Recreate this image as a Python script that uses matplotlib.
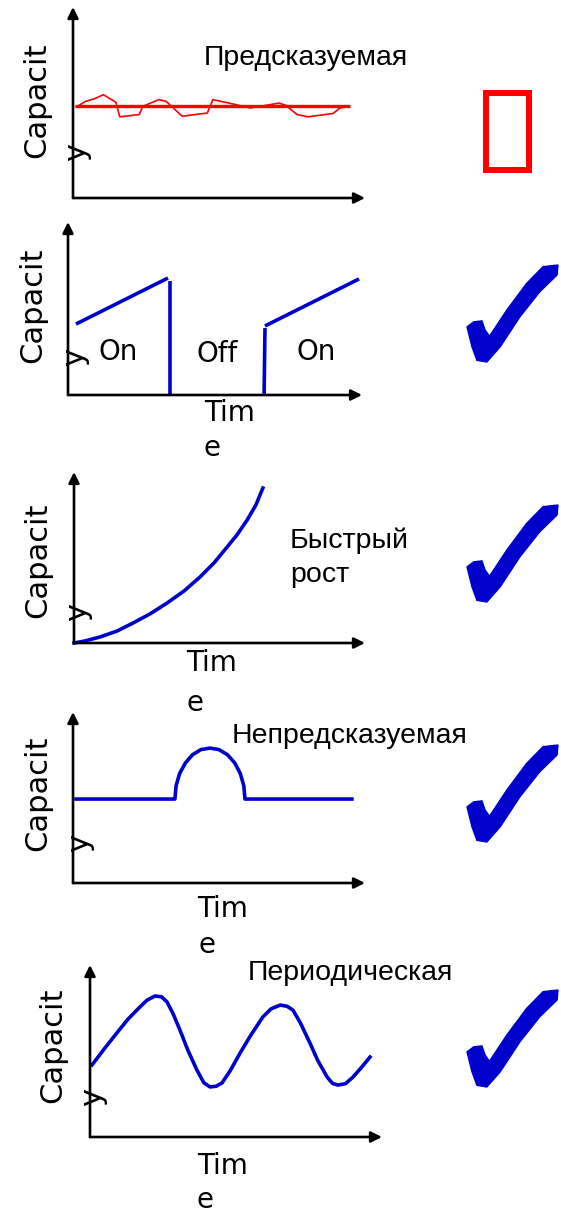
"""
Five small sketch charts of capacity over time, with a mark on the right of each.

Output:
    out.png
"""

import matplotlib.pyplot as plt
from matplotlib.patches import Rectangle, Polygon


# ---------------------------------------------------------------------
# Data (time / capacity in sketch units 0..10)
# ---------------------------------------------------------------------

# Panel 1: predictable
steady_t = [0.06, 9.48]
steady_c = [4.84, 4.84]
noisy_t = [0.12, 0.43, 0.74, 1.04, 1.47, 1.60, 2.27, 2.39, 2.94, 3.19, 3.74,
           4.60, 4.79, 5.34, 6.07, 7.06, 7.30, 7.67, 8.04, 8.90, 9.14, 9.45]
noisy_c = [4.77, 5.06, 5.20, 5.41, 5.01, 4.25, 4.37, 4.80, 5.15, 5.06, 4.28,
           4.45, 5.15, 4.97, 4.71, 4.97, 4.84, 4.37, 4.25, 4.42, 4.71, 4.80]

# Panel 2: on / off
on_off_segments = [
    ([0.27, 3.40], [4.10, 6.76]),
    ([3.47, 3.47], [6.59, 0.00]),
    ([6.67, 6.70], [0.00, 3.87]),
    ([6.70, 9.90], [3.99, 6.71]),
]
on_off_labels = ["On", "Off", "On"]

# Panel 3: fast growth
growth_t = [0.00, 0.38, 0.89, 1.48, 2.03, 2.61, 3.20, 3.78, 4.33, 4.81, 5.26,
            5.60, 5.95, 6.25, 6.49]
growth_c = [0.00, 0.12, 0.35, 0.70, 1.17, 1.70, 2.34, 3.04, 3.86, 4.68, 5.61,
            6.32, 7.19, 8.07, 9.06]

# Panel 4: unpredictable (flat with one bump)
bump_t = [0.10, 3.42, 3.49, 3.53, 3.65, 3.85, 4.09, 4.38, 4.69, 5.00, 5.29,
          5.54, 5.73, 5.85, 5.89, 5.96, 9.55]
bump_c = [4.91, 4.91, 4.91, 5.68, 6.40, 7.02, 7.50, 7.80, 7.89, 7.80, 7.50,
          7.02, 6.40, 5.68, 4.91, 4.91, 4.91]

# Panel 5: periodic
wave_t = [0.07, 0.50, 0.92, 1.30, 1.71, 1.95, 2.23, 2.45, 2.64, 2.85, 3.08,
          3.35, 3.66, 3.90, 4.11, 4.32, 4.52, 4.80, 5.14, 5.50, 5.92, 6.20,
          6.51, 6.75, 6.95, 7.20, 7.53, 7.80, 8.12, 8.30, 8.49, 8.75, 9.01,
          9.30, 9.59]
wave_c = [4.19, 5.15, 6.05, 6.85, 7.56, 7.95, 8.20, 8.15, 7.85, 7.15, 6.22,
          5.05, 3.90, 3.15, 2.91, 2.95, 3.14, 3.85, 4.88, 5.90, 6.98, 7.45,
          7.67, 7.60, 7.38, 6.65, 5.47, 4.45, 3.49, 3.12, 3.02, 3.10, 3.49,
          4.05, 4.65]

titles = ["Предсказуемая", "Быстрый\nрост", "Непредсказуемая", "Периодическая"]
y_label = "Capacit"
x_label = ("Tim", "e")


# ---------------------------------------------------------------------
# Style
# ---------------------------------------------------------------------

W, H = 561, 1213
BLUE = "#0000cc"
RED = "#ff0000"
LABEL_FONT = "DejaVu Sans"
TITLE_FONT = "Liberation Sans"

# check mark outline, normalised to its box (u right, v down)
CHECK_U = [0.0, 0.073, 0.164, 0.2, 0.247, 0.436, 0.655, 0.836, 1.0, 0.99,
           0.8, 0.582, 0.364, 0.218, 0.109, 0.055]
CHECK_V = [0.638, 0.586, 0.576, 0.672, 0.734, 0.466, 0.19, 0.017, 0.0, 0.103,
           0.276, 0.534, 0.845, 1.0, 0.983, 0.845]

fig = plt.figure(figsize=(W / 100, H / 100), dpi=100)

# overlay in pixel coordinates for labels and marks
over = fig.add_axes([0, 0, 1, 1])
over.set_xlim(0, W)
over.set_ylim(H, 0)
over.axis("off")


def panel_axes(left, top, right, bottom):
    ax = fig.add_axes([left / W, 1 - bottom / H, (right - left) / W, (bottom - top) / H])
    ax.set_xlim(0, 10)
    ax.set_ylim(0, 10)
    ax.axis("off")
    ax.patch.set_alpha(0)
    arrow = dict(arrowstyle="-|>", lw=1.9, color="black", mutation_scale=16,
                 shrinkA=0, shrinkB=0)
    ax.annotate("", xy=(1, 0), xytext=(0, 0), xycoords="axes fraction", arrowprops=arrow)
    ax.annotate("", xy=(0, 1), xytext=(0, 0), xycoords="axes fraction", arrowprops=arrow)
    return ax


def axis_labels(ylab_xy, y_xy, tim_xy=None, e_xy=None):
    over.text(*ylab_xy, y_label, rotation=90, ha="center", va="center",
              fontsize=22, family=LABEL_FONT)
    over.text(*y_xy, "y", rotation=90, ha="center", va="center",
              fontsize=22, family=LABEL_FONT)
    if tim_xy is not None:
        over.text(*tim_xy, x_label[0], ha="center", va="center",
                  fontsize=20, family=LABEL_FONT)
        over.text(*e_xy, x_label[1], ha="center", va="center",
                  fontsize=20, family=LABEL_FONT)


def check_mark(x0, y0, w=91, h=97):
    pts = [(x0 + u * w, y0 + v * h) for u, v in zip(CHECK_U, CHECK_V)]
    over.add_patch(Polygon(pts, closed=True, facecolor=BLUE, edgecolor=BLUE, lw=1))


# ---------------------------------------------------------------------
# Panel 1
# ---------------------------------------------------------------------

ax1 = panel_axes(73, 7, 365, 198)
ax1.plot(steady_t, steady_c, color=RED, lw=2.4, solid_capstyle="butt")
ax1.plot(noisy_t, noisy_c, color=RED, lw=1.2)
axis_labels((37, 100), (77, 152))
over.text(306, 65, titles[0], ha="center", va="baseline", fontsize=20.5, family=TITLE_FONT)
over.add_patch(Rectangle((486, 93), 43, 77, fill=False, edgecolor=RED, lw=4.3))

# ---------------------------------------------------------------------
# Panel 2
# ---------------------------------------------------------------------

ax2 = panel_axes(68, 222, 362, 395)
for seg_t, seg_c in on_off_segments:
    ax2.plot(seg_t, seg_c, color=BLUE, lw=2.6, solid_capstyle="butt")
for (lx, ly), lab in zip([(118, 352), (217, 354), (316, 352)], on_off_labels):
    over.text(lx, ly, lab, ha="center", va="center", fontsize=20, family=LABEL_FONT)
axis_labels((33, 305), (75, 357), (230, 413), (212, 448))
check_mark(467, 265)

# ---------------------------------------------------------------------
# Panel 3
# ---------------------------------------------------------------------

ax3 = panel_axes(74, 472, 365, 643)
ax3.plot(growth_t, growth_c, color=BLUE, lw=2.6, clip_on=False)
over.text(290, 548, titles[1].split("\n")[0], ha="left", va="baseline",
          fontsize=20.5, family=TITLE_FONT)
over.text(290, 582, titles[1].split("\n")[1], ha="left", va="baseline",
          fontsize=20.5, family=TITLE_FONT)
axis_labels((38, 560), (78, 612), (212, 663), (195, 703))
check_mark(467, 505)

# ---------------------------------------------------------------------
# Panel 4
# ---------------------------------------------------------------------

ax4 = panel_axes(73, 712, 365, 883)
ax4.plot(bump_t, bump_c, color=BLUE, lw=2.6)
over.text(350, 743, titles[2], ha="center", va="baseline", fontsize=20.5, family=TITLE_FONT)
axis_labels((38, 793), (80, 843), (223, 909), (207, 945))
check_mark(467, 745)

# ---------------------------------------------------------------------
# Panel 5
# ---------------------------------------------------------------------

ax5 = panel_axes(90, 965, 382, 1137)
ax5.plot(wave_t, wave_c, color=BLUE, lw=2.6)
over.text(350, 980, titles[3], ha="center", va="baseline", fontsize=20.5, family=TITLE_FONT)
axis_labels((53, 1045), (93, 1097), (223, 1166), (205, 1200))
check_mark(467, 990)

fig.savefig("out.png", dpi=100)
